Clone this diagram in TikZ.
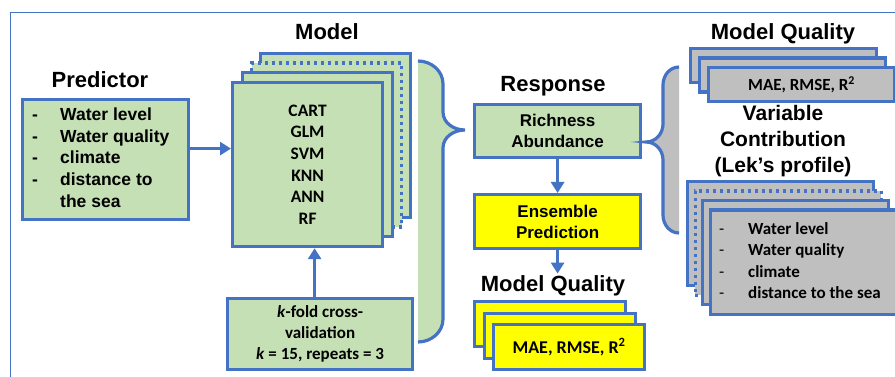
\documentclass[tikz,border=0pt]{standalone}
\usepackage{fontspec}
\setmainfont{Liberation Sans}
\newfontfamily\calibri{Carlito}
\usetikzlibrary{arrows.meta,positioning}
\definecolor{frameblue}{RGB}{68,114,196}
\definecolor{boxgreen}{RGB}{197,224,180}
\definecolor{boxgray}{RGB}{191,191,191}
\definecolor{boxyellow}{RGB}{255,255,0}

\tikzset{
  layer/.style={draw=frameblue, line width=3.2pt, anchor=north west, inner sep=0pt},
  greenlayer/.style={layer, fill=boxgreen},
  graylayer/.style={layer, fill=boxgray},
  yellowlayer/.style={layer, fill=boxyellow},
  dotlayer/.style={dash pattern=on 3pt off 4pt},
  flow/.style={draw=frameblue, line width=3.2pt, -{Triangle[length=11pt,width=13pt]}},
  heading/.style={font=\bfseries\fontsize{22}{26}\selectfont, inner sep=0pt, anchor=base},
  bracefill/.style={line width=3.2pt, draw=frameblue},
}

\begin{document}
\begin{tikzpicture}[x=1pt, y=-1pt]
    \useasboundingbox (0,0) rectangle (895,377);
    % Rahmen
    \draw[frameblue, line width=1pt] (10,377) -- (10,13) -- (895,13);

    % Predictor
    \node[heading] (predtitle) at (100,88) {Predictor};
    \node[greenlayer, minimum width=166pt, minimum height=120pt] (pred) at (21,98) {};
    \node[anchor=west, inner sep=0pt, font=\bfseries\fontsize{17.5}{21.7}\selectfont] (predlist) at ([xshift=11pt]pred.west)
      {\begin{tabular}{@{}p{28pt}@{}l@{}}-&Water level\\-&Water quality\\-&climate\\-&distance to\\&the sea\end{tabular}};

    % Model (Stapel)
    \node[heading] (modeltitle) at (327,40) {Model};
    \node[greenlayer, minimum width=150pt, minimum height=164pt] (model3) at (259,52) {};
    \node[greenlayer, dotlayer, minimum width=150pt, minimum height=164pt] (model2) at (250,61.5) {};
    \node[greenlayer, minimum width=150pt, minimum height=164pt] (model1) at (240.5,71) {};
    \node[greenlayer, minimum width=150pt, minimum height=164pt, align=center,
          font=\calibri\bfseries\fontsize{17.5}{21.7}\selectfont] (model) at (231,81) {CART\\GLM\\SVM\\KNN\\ANN\\RF};
    \draw[flow] ([yshift=11pt]pred.east) -- ([yshift=11pt]pred.east -| model.west);

    % Kreuzvalidierung
    \node[greenlayer, minimum width=185pt, minimum height=71pt, align=center,
          font=\calibri\bfseries\fontsize{17}{21}\selectfont] (kfold) at (226,297)
          {\textit{k}-fold cross-\\validation\\\textit{k} = 15, repeats = 3};
    \draw[flow] ([xshift=-5.5pt]kfold.north) -- ([xshift=-5.5pt]kfold.north |- model.south);

    % Klammer Model
    \fill[boxgreen] (418,61) to[out=0,in=90] (443,84) -- (443,112) to[out=-90,in=180] (465,130)
      to[out=180,in=90] (443,148) -- (443,319) to[out=-90,in=0] (418,342) -- cycle;
    \draw[bracefill] (418,61) to[out=0,in=90] (443,84) -- (443,112) to[out=-90,in=180] (465,130)
      to[out=180,in=90] (443,148) -- (443,319) to[out=-90,in=0] (418,342);

    % Response
    \node[heading] (resptitle) at (553,91.5) {Response};
    \node[greenlayer, minimum width=166pt, minimum height=53pt, align=center,
          font=\bfseries\fontsize{17}{21}\selectfont] (rich) at (473,103) {Richness\\Abundance};
    \node[yellowlayer, minimum width=166pt, minimum height=54pt, align=center,
          font=\bfseries\fontsize{17}{21}\selectfont] (ens) at (473,193) {Ensemble\\Prediction};
    \draw[flow] (rich.south) -- (ens.north);

    % Model Quality unten
    \node[heading] (mqlow) at (553,291.7) {Model Quality};
    \draw[flow, shorten >=2pt] (ens.south) -- (ens.south |- mqlow.north);
    \node[yellowlayer, minimum width=151pt, minimum height=45pt] (maelow2) at (473,300) {};
    \node[yellowlayer, minimum width=151pt, minimum height=45pt] (maelow1) at (482.5,311.5) {};
    \node[yellowlayer, minimum width=151pt, minimum height=45pt,
          font=\calibri\bfseries\fontsize{18}{21}\selectfont] (maelow) at (492,323) {MAE, RMSE, R\textsuperscript{2}};

    % Klammer Ergebnis
    \fill[boxgray] (679,67) to[out=180,in=90] (663,85) -- (663,124) to[out=-90,in=0] (646,142)
      to[out=0,in=90] (663,160) -- (663,215) to[out=-90,in=180] (679,233) -- cycle;
    \draw[bracefill] (679,67) to[out=180,in=90] (663,85) -- (663,124) to[out=-90,in=0] (646,142)
      to[out=0,in=90] (663,160) -- (663,215) to[out=-90,in=180] (679,233);

    % Model Quality oben
    \node[heading] (mqup) at (783,40) {Model Quality};
    \node[graylayer, minimum width=186pt, minimum height=34pt] (maeup2) at (689,47) {};
    \node[graylayer, minimum width=186pt, minimum height=34pt] (maeup1) at (698,56.5) {};
    \node[graylayer, minimum width=186pt, minimum height=34pt,
          font=\calibri\bfseries\fontsize{17}{21}\selectfont] (maeup) at (707,66) {MAE, RMSE, R\textsuperscript{2}};

    % Variable Contribution
    \node[inner sep=0pt, align=center, font=\bfseries\fontsize{21}{26}\selectfont] (varcontr) at (783,141.2)
      {Variable\\Contribution\\(Lek’s profile)};
    \node[graylayer, minimum width=186pt, minimum height=104pt] (lek3) at (686,180) {};
    \node[graylayer, dotlayer, minimum width=186pt, minimum height=104pt] (lek2) at (693.5,189.5) {};
    \node[graylayer, minimum width=186pt, minimum height=104pt] (lek1) at (701,199) {};
    \node[graylayer, minimum width=186pt, minimum height=104pt] (lek) at (708.5,208.5) {};
    \node[anchor=west, inner sep=0pt, font=\calibri\bfseries\fontsize{17}{21.6}\selectfont] (leklist) at ([xshift=10.5pt]lek.west)
      {\begin{tabular}{@{}p{29pt}@{}l@{}}\mdseries-&Water level\\\mdseries-&Water quality\\\mdseries-&climate\\\mdseries-&distance to the sea\end{tabular}};
  \end{tikzpicture}
\end{document}
